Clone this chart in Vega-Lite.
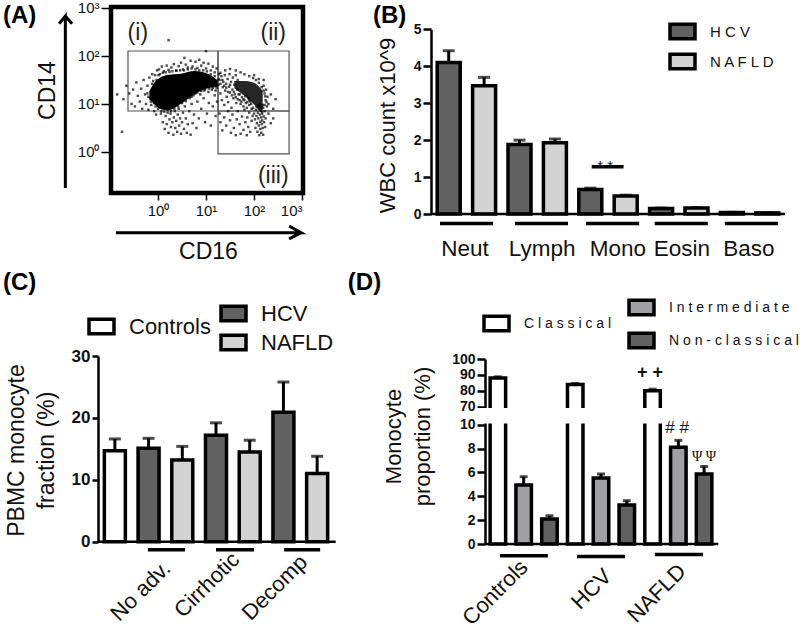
{"$schema":"https://vega.github.io/schema/vega-lite/v6.json","background":"white","padding":{"left":2,"top":0,"right":0,"bottom":0},"config":{"view":{"stroke":null},"font":"Liberation Sans","axis":{"grid":false,"labelFont":"Liberation Sans","titleFont":"Liberation Sans","titleFontWeight":"normal","labelColor":"#111","titleColor":"#111","tickColor":"black","domainColor":"black"},"legend":{"labelFont":"Liberation Sans","labelColor":"#111","symbolStrokeColor":"black","symbolStrokeWidth":3.5,"symbolOpacity":1,"padding":0,"labelLimit":300,"title":null,"symbolType":"M-1,-0.58H1V0.58H-1Z","symbolSize":625,"orient":"none"}},"spacing":{"row":142,"column":97},"bounds":"flush","columns":2,"concat":[
{"width":236,"height":186,"resolve":{"axis":{"x":"independent","y":"independent"}},"layer":[
{"data":{"values":[{"cd16":-0.979,"to":3.02,"cd14":-0.854,"top":3.02}]},"mark":{"type":"rect","fill":null,"stroke":"black","strokeWidth":4.5},"encoding":{"x":{"field":"cd16","type":"quantitative","scale":{"domain":[-0.979,3.02],"range":[13,205],"nice":false,"zero":false},"axis":{"values":[0,1,2,3],"labelExpr":"'10'+['⁰','¹','²','³'][datum.value]","labelFontSize":15,"tickSize":7,"tickWidth":1.5,"domain":false,"title":"CD16","titleFontSize":23,"titleX":110,"titleY":47,"labelPadding":3}},"x2":{"field":"to"},"y":{"field":"cd14","type":"quantitative","scale":{"domain":[-0.854,3.02],"range":[186,0],"nice":false,"zero":false},"axis":{"values":[0,1,2,3],"labelExpr":"'10'+['⁰','¹','²','³'][datum.value]","labelFontSize":15,"tickSize":10,"tickWidth":1.5,"domain":false,"offset":-13,"title":"CD14","titleFontSize":23,"titleX":-52,"titleY":83,"labelPadding":2}},"y2":{"field":"top"}}},
{"data":{"values":[{"gate":"i","cd16":-0.625,"to":1.25,"cd14":0.854,"top":2.104},{"gate":"ii","cd16":1.25,"to":2.73,"cd14":0.854,"top":2.104},{"gate":"iii","cd16":1.25,"to":2.73,"cd14":-0.04,"top":0.854}]},"mark":{"type":"rect","fill":null,"stroke":"#555","strokeWidth":1.2},"encoding":{"x":{"field":"cd16","type":"quantitative","axis":null},"x2":{"field":"to"},"y":{"field":"cd14","type":"quantitative","axis":null},"y2":{"field":"top"}}},
{"data":{"values":[{"cd16":-0.18,"lo":1.097,"hi":1.27},{"cd16":-0.076,"lo":0.993,"hi":1.444},{"cd16":0.0625,"lo":0.889,"hi":1.5625},{"cd16":0.2,"lo":0.868,"hi":1.604},{"cd16":0.48,"lo":1.007,"hi":1.632},{"cd16":0.757,"lo":1.2,"hi":1.6875},{"cd16":1.035,"lo":1.326,"hi":1.632},{"cd16":1.243,"lo":1.354,"hi":1.493}]},"mark":{"type":"area","color":"black","interpolate":"monotone"},"encoding":{"x":{"field":"cd16","type":"quantitative","axis":null},"y":{"field":"lo","type":"quantitative","axis":null},"y2":{"field":"hi"}}},
{"data":{"values":[{"cd16":1.59,"lo":1.33,"hi":1.48},{"cd16":1.8,"lo":1.17,"hi":1.48},{"cd16":2.0,"lo":0.99,"hi":1.44},{"cd16":2.18,"lo":0.78,"hi":1.27}]},"mark":{"type":"area","color":"black","opacity":0.85,"interpolate":"monotone"},"encoding":{"x":{"field":"cd16","type":"quantitative","axis":null},"y":{"field":"lo","type":"quantitative","axis":null},"y2":{"field":"hi"}}},
{"data":{"values":[{"cd16":-0.72,"cd14":1.1},{"cd16":-0.66,"cd14":1.38},{"cd16":-0.6,"cd14":1.22},{"cd16":-0.55,"cd14":1.0},{"cd16":-0.52,"cd14":1.3},{"cd16":-0.48,"cd14":0.95},{"cd16":-0.45,"cd14":1.45},{"cd16":-0.42,"cd14":1.17},{"cd16":-0.38,"cd14":1.05},{"cd16":-0.35,"cd14":1.32},{"cd16":-0.33,"cd14":0.9},{"cd16":-0.3,"cd14":1.5},{"cd16":-0.27,"cd14":1.2},{"cd16":-0.25,"cd14":1.0},{"cd16":-0.22,"cd14":1.38},{"cd16":-0.2,"cd14":0.88},{"cd16":-0.18,"cd14":1.55},{"cd16":-0.16,"cd14":1.12},{"cd16":-0.14,"cd14":0.98},{"cd16":-0.12,"cd14":1.62},{"cd16":-0.1,"cd14":1.3},{"cd16":-0.08,"cd14":0.85},{"cd16":-0.06,"cd14":1.6},{"cd16":-0.04,"cd14":0.78},{"cd16":-0.02,"cd14":1.7},{"cd16":-0.75,"cd14":0.42},{"cd16":-0.85,"cd14":1.2},{"cd16":0.02,"cd14":1.72},{"cd16":0.08,"cd14":1.78},{"cd16":0.12,"cd14":1.68},{"cd16":0.18,"cd14":1.8},{"cd16":0.22,"cd14":1.71},{"cd16":0.28,"cd14":1.76},{"cd16":0.33,"cd14":1.83},{"cd16":0.38,"cd14":1.7},{"cd16":0.43,"cd14":1.79},{"cd16":0.48,"cd14":1.86},{"cd16":0.52,"cd14":1.72},{"cd16":0.58,"cd14":1.82},{"cd16":0.62,"cd14":1.76},{"cd16":0.68,"cd14":1.9},{"cd16":0.72,"cd14":1.78},{"cd16":0.78,"cd14":1.88},{"cd16":0.82,"cd14":1.75},{"cd16":0.86,"cd14":1.92},{"cd16":0.9,"cd14":1.8},{"cd16":0.95,"cd14":1.86},{"cd16":1.0,"cd14":1.74},{"cd16":1.05,"cd14":1.84},{"cd16":1.1,"cd14":1.7},{"cd16":1.14,"cd14":1.78},{"cd16":1.18,"cd14":1.66},{"cd16":1.22,"cd14":1.74},{"cd16":1.27,"cd14":1.62},{"cd16":0.55,"cd14":1.96},{"cd16":1.0,"cd14":2.1},{"cd16":0.22,"cd14":2.33},{"cd16":0.02,"cd14":0.95},{"cd16":0.06,"cd14":0.8},{"cd16":0.1,"cd14":0.62},{"cd16":0.12,"cd14":0.9},{"cd16":0.14,"cd14":0.48},{"cd16":0.16,"cd14":0.75},{"cd16":0.18,"cd14":0.58},{"cd16":0.2,"cd14":0.88},{"cd16":0.22,"cd14":0.4},{"cd16":0.24,"cd14":0.68},{"cd16":0.26,"cd14":0.8},{"cd16":0.27,"cd14":0.52},{"cd16":0.29,"cd14":0.93},{"cd16":0.3,"cd14":0.62},{"cd16":0.32,"cd14":0.36},{"cd16":0.33,"cd14":0.72},{"cd16":0.35,"cd14":0.85},{"cd16":0.36,"cd14":0.5},{"cd16":0.38,"cd14":0.65},{"cd16":0.4,"cd14":0.42},{"cd16":0.41,"cd14":0.78},{"cd16":0.43,"cd14":0.9},{"cd16":0.44,"cd14":0.55},{"cd16":0.46,"cd14":0.7},{"cd16":0.48,"cd14":0.38},{"cd16":0.5,"cd14":0.62},{"cd16":0.52,"cd14":0.82},{"cd16":0.54,"cd14":0.48},{"cd16":0.56,"cd14":0.95},{"cd16":0.58,"cd14":0.7},{"cd16":0.6,"cd14":0.4},{"cd16":0.62,"cd14":0.58},{"cd16":0.65,"cd14":0.85},{"cd16":0.68,"cd14":0.36},{"cd16":0.7,"cd14":1.0},{"cd16":0.72,"cd14":0.6},{"cd16":0.75,"cd14":0.78},{"cd16":0.8,"cd14":0.5},{"cd16":0.82,"cd14":1.05},{"cd16":0.85,"cd14":0.7},{"cd16":0.9,"cd14":0.9},{"cd16":0.95,"cd14":1.12},{"cd16":0.98,"cd14":0.62},{"cd16":1.02,"cd14":0.8},{"cd16":1.06,"cd14":1.02},{"cd16":1.1,"cd14":0.55},{"cd16":1.14,"cd14":0.95},{"cd16":1.18,"cd14":1.18},{"cd16":1.2,"cd14":0.75},{"cd16":1.23,"cd14":1.05},{"cd16":0.7,"cd14":1.15},{"cd16":0.78,"cd14":1.22},{"cd16":0.88,"cd14":1.2},{"cd16":0.96,"cd14":1.28},{"cd16":1.05,"cd14":1.25},{"cd16":1.12,"cd14":1.3},{"cd16":1.2,"cd14":1.28},{"cd16":1.26,"cd14":1.4},{"cd16":1.28,"cd14":1.5},{"cd16":1.3,"cd14":1.22},{"cd16":1.32,"cd14":1.58},{"cd16":1.33,"cd14":1.08},{"cd16":1.35,"cd14":1.35},{"cd16":1.36,"cd14":1.46},{"cd16":1.38,"cd14":0.98},{"cd16":1.39,"cd14":1.6},{"cd16":1.4,"cd14":1.28},{"cd16":1.42,"cd14":1.42},{"cd16":1.43,"cd14":1.15},{"cd16":1.45,"cd14":1.52},{"cd16":1.46,"cd14":1.04},{"cd16":1.48,"cd14":1.36},{"cd16":1.49,"cd14":1.62},{"cd16":1.5,"cd14":1.24},{"cd16":1.52,"cd14":1.46},{"cd16":1.53,"cd14":0.92},{"cd16":1.55,"cd14":1.3},{"cd16":1.56,"cd14":1.55},{"cd16":1.57,"cd14":1.12},{"cd16":1.59,"cd14":1.4},{"cd16":1.6,"cd14":1.2},{"cd16":1.62,"cd14":1.6},{"cd16":1.63,"cd14":1.02},{"cd16":1.65,"cd14":1.3},{"cd16":1.66,"cd14":1.5},{"cd16":1.3,"cd14":1.65},{"cd16":1.4,"cd14":1.7},{"cd16":1.5,"cd14":1.73},{"cd16":1.62,"cd14":1.7},{"cd16":1.72,"cd14":1.66},{"cd16":1.8,"cd14":1.62},{"cd16":1.9,"cd14":1.58},{"cd16":2.0,"cd14":1.6},{"cd16":2.1,"cd14":1.52},{"cd16":2.2,"cd14":1.5},{"cd16":2.2,"cd14":1.38},{"cd16":2.25,"cd14":1.3},{"cd16":2.28,"cd14":1.15},{"cd16":2.3,"cd14":1.0},{"cd16":2.24,"cd14":1.08},{"cd16":2.35,"cd14":1.2},{"cd16":2.4,"cd14":0.9},{"cd16":2.45,"cd14":1.1},{"cd16":2.27,"cd14":0.95},{"cd16":2.22,"cd14":1.22},{"cd16":1.68,"cd14":1.2},{"cd16":1.7,"cd14":1.08},{"cd16":1.72,"cd14":1.0},{"cd16":1.75,"cd14":1.14},{"cd16":1.78,"cd14":0.95},{"cd16":1.8,"cd14":1.08},{"cd16":1.83,"cd14":1.02},{"cd16":1.85,"cd14":0.92},{"cd16":1.88,"cd14":1.12},{"cd16":1.9,"cd14":0.98},{"cd16":1.92,"cd14":1.05},{"cd16":1.95,"cd14":0.9},{"cd16":1.28,"cd14":0.8},{"cd16":1.3,"cd14":0.62},{"cd16":1.34,"cd14":0.45},{"cd16":1.38,"cd14":0.72},{"cd16":1.42,"cd14":0.55},{"cd16":1.46,"cd14":0.85},{"cd16":1.5,"cd14":0.66},{"cd16":1.52,"cd14":0.4},{"cd16":1.55,"cd14":0.78},{"cd16":1.58,"cd14":0.5},{"cd16":1.62,"cd14":0.35},{"cd16":1.64,"cd14":0.68},{"cd16":1.66,"cd14":0.85},{"cd16":1.7,"cd14":0.58},{"cd16":1.72,"cd14":0.38},{"cd16":1.75,"cd14":0.74},{"cd16":1.78,"cd14":0.46},{"cd16":1.8,"cd14":0.88},{"cd16":1.82,"cd14":0.62},{"cd16":1.85,"cd14":0.35},{"cd16":1.86,"cd14":0.72},{"cd16":1.88,"cd14":0.52},{"cd16":1.9,"cd14":0.82},{"cd16":1.92,"cd14":0.42},{"cd16":1.95,"cd14":0.65},{"cd16":1.97,"cd14":0.75},{"cd16":1.98,"cd14":0.92},{"cd16":2.0,"cd14":0.8},{"cd16":2.02,"cd14":0.68},{"cd16":2.03,"cd14":0.5},{"cd16":2.04,"cd14":0.88},{"cd16":2.05,"cd14":0.75},{"cd16":2.06,"cd14":0.6},{"cd16":2.07,"cd14":0.42},{"cd16":2.08,"cd14":0.95},{"cd16":2.08,"cd14":0.82},{"cd16":2.09,"cd14":0.7},{"cd16":2.1,"cd14":0.55},{"cd16":2.1,"cd14":0.9},{"cd16":2.11,"cd14":0.35},{"cd16":2.12,"cd14":0.78},{"cd16":2.13,"cd14":0.63},{"cd16":2.13,"cd14":0.48},{"cd16":2.14,"cd14":0.86},{"cd16":2.15,"cd14":0.72},{"cd16":2.15,"cd14":0.4},{"cd16":2.16,"cd14":0.58},{"cd16":2.17,"cd14":0.8},{"cd16":2.17,"cd14":0.66},{"cd16":2.18,"cd14":0.5},{"cd16":2.19,"cd14":0.92},{"cd16":2.19,"cd14":0.36},{"cd16":2.2,"cd14":0.74},{"cd16":2.21,"cd14":0.62},{"cd16":2.22,"cd14":0.85},{"cd16":2.23,"cd14":0.52},{"cd16":2.24,"cd14":0.7},{"cd16":2.05,"cd14":0.95},{"cd16":2.12,"cd14":1.0},{"cd16":2.18,"cd14":0.98},{"cd16":2.3,"cd14":0.8},{"cd16":2.35,"cd14":0.6},{"cd16":2.4,"cd14":0.7},{"cd16":-0.2,"cd14":1.15},{"cd16":-0.22,"cd14":1.22},{"cd16":-0.15,"cd14":1.05},{"cd16":-0.12,"cd14":1.42},{"cd16":-0.1,"cd14":1.48},{"cd16":-0.08,"cd14":1.02},{"cd16":-0.05,"cd14":0.95},{"cd16":-0.03,"cd14":1.5},{"cd16":0,"cd14":0.9},{"cd16":0.01,"cd14":1.6},{"cd16":0.04,"cd14":1.62},{"cd16":0.07,"cd14":0.85},{"cd16":0.1,"cd14":1.65},{"cd16":0.13,"cd14":0.84},{"cd16":0.16,"cd14":1.66},{"cd16":0.2,"cd14":0.82},{"cd16":0.24,"cd14":1.67},{"cd16":0.27,"cd14":0.85},{"cd16":0.3,"cd14":1.68},{"cd16":0.34,"cd14":0.9},{"cd16":0.38,"cd14":1.69},{"cd16":0.42,"cd14":0.95},{"cd16":0.46,"cd14":1.7},{"cd16":0.5,"cd14":1.02},{"cd16":0.54,"cd14":1.7},{"cd16":0.58,"cd14":1.06},{"cd16":0.62,"cd14":1.72},{"cd16":0.66,"cd14":1.12},{"cd16":0.7,"cd14":1.74},{"cd16":0.74,"cd14":1.18},{"cd16":0.78,"cd14":1.72},{"cd16":0.82,"cd14":1.24},{"cd16":0.86,"cd14":1.7},{"cd16":0.9,"cd14":1.27},{"cd16":0.94,"cd14":1.7},{"cd16":0.98,"cd14":1.3},{"cd16":1.02,"cd14":1.68},{"cd16":1.06,"cd14":1.32},{"cd16":1.1,"cd14":1.62},{"cd16":1.14,"cd14":1.34},{"cd16":1.18,"cd14":1.58},{"cd16":1.22,"cd14":1.34},{"cd16":1.26,"cd14":1.52},{"cd16":1.3,"cd14":1.42},{"cd16":1.34,"cd14":1.5},{"cd16":1.38,"cd14":1.38},{"cd16":1.42,"cd14":1.34},{"cd16":1.46,"cd14":1.25},{"cd16":1.5,"cd14":1.4},{"cd16":1.54,"cd14":1.18},{"cd16":1.58,"cd14":1.25},{"cd16":1.62,"cd14":1.14},{"cd16":1.66,"cd14":1.1},{"cd16":1.7,"cd14":1.2},{"cd16":1.74,"cd14":1.05},{"cd16":1.78,"cd14":1.1},{"cd16":1.82,"cd14":1.16},{"cd16":1.86,"cd14":1.04},{"cd16":1.9,"cd14":1.08},{"cd16":1.94,"cd14":1.0},{"cd16":1.98,"cd14":1.54},{"cd16":2.04,"cd14":1.5},{"cd16":2.1,"cd14":1.44},{"cd16":2.16,"cd14":1.35},{"cd16":2.2,"cd14":1.28},{"cd16":2.23,"cd14":1.16},{"cd16":2.26,"cd14":1.04},{"cd16":2.22,"cd14":0.98},{"cd16":2.16,"cd14":0.94},{"cd16":2.1,"cd14":0.97}]},"mark":{"type":"square","size":6,"color":"black"},"encoding":{"x":{"field":"cd16","type":"quantitative","axis":null},"y":{"field":"cd14","type":"quantitative","axis":null}}},
{"data":{"values":[{"i":1,"cd16":-1.93,"cd14":-0.75},{"i":2,"cd16":-1.93,"cd14":2.83},{"i":3,"cd16":-2.06,"cd14":2.67},{"i":4,"cd16":-1.93,"cd14":2.83},{"i":5,"cd16":-1.79,"cd14":2.67}]},"mark":{"type":"line","color":"black","strokeWidth":3},"encoding":{"x":{"field":"cd16","type":"quantitative","axis":null},"y":{"field":"cd14","type":"quantitative","axis":null},"order":{"field":"i"}}},
{"data":{"values":[{"i":1,"cd16":-0.875,"cd14":-1.68},{"i":2,"cd16":2.98,"cd14":-1.68},{"i":3,"cd16":2.73,"cd14":-1.54},{"i":4,"cd16":2.98,"cd14":-1.68},{"i":5,"cd16":2.73,"cd14":-1.81}]},"mark":{"type":"line","color":"black","strokeWidth":3},"encoding":{"x":{"field":"cd16","type":"quantitative","axis":null},"y":{"field":"cd14","type":"quantitative","axis":null},"order":{"field":"i"}}},
{"data":{"values":[{"t":"(i)","cd16":-0.42,"cd14":2.48},{"t":"(ii)","cd16":2.4,"cd14":2.48},{"t":"(iii)","cd16":2.4,"cd14":-0.5}]},"mark":{"type":"text","fontSize":23,"color":"#222"},"encoding":{"x":{"field":"cd16","type":"quantitative","axis":null},"y":{"field":"cd14","type":"quantitative","axis":null},"text":{"field":"t"}}},
{"data":{"values":[{"t":"(A)","cd16":-3.23,"cd14":2.83}]},"mark":{"type":"text","fontSize":24,"fontWeight":"bold","align":"left","color":"black"},"encoding":{"x":{"field":"cd16","type":"quantitative","axis":null},"y":{"field":"cd14","type":"quantitative","axis":null},"text":{"field":"t"}}}
]},
{"width":354,"height":207,"resolve":{"scale":{"x":"independent"},"axis":{"y":"independent"}},"layer":[
{"data":{"values":[{"bar":"Neut HCV","series":"HCV","mean":4.1,"top":4.42},{"bar":"Neut NAFLD","series":"NAFLD","mean":3.47,"top":3.7},{"bar":"Lymph HCV","series":"HCV","mean":1.88,"top":2.0},{"bar":"Lymph NAFLD","series":"NAFLD","mean":1.93,"top":2.03},{"bar":"Mono HCV","series":"HCV","mean":0.66,"top":0.7},{"bar":"Mono NAFLD","series":"NAFLD","mean":0.49,"top":0.51},{"bar":"Eosin HCV","series":"HCV","mean":0.15,"top":0.16},{"bar":"Eosin NAFLD","series":"NAFLD","mean":0.16,"top":0.17},{"bar":"Baso HCV","series":"HCV","mean":0.04,"top":0.045},{"bar":"Baso NAFLD","series":"NAFLD","mean":0.03,"top":0.035}]},
"encoding":{"x":{"field":"bar","type":"nominal","scale":{"domain":["Neut HCV","Neut NAFLD","Lymph HCV","Lymph NAFLD","Mono HCV","Mono NAFLD","Eosin HCV","Eosin NAFLD","Baso HCV","Baso NAFLD"],"padding":0},"axis":null}},
"resolve":{"axis":{"y":"independent"}},
"layer":[{"mark":{"type":"rule","color":"black","strokeWidth":3},"encoding":{"y":{"field":"mean","type":"quantitative","scale":{"domain":[0,5],"range":[207,22.3],"nice":false,"zero":false},"axis":{"values":[0,1,2,3,4,5],"labelFontWeight":"bold","labelFontSize":14,"tickSize":8,"tickWidth":2.5,"domainWidth":2.5,"title":"WBC count x10^9","titleFontSize":22,"titleX":-32,"titleY":118}},"y2":{"field":"top"}}},
{"mark":{"type":"tick","color":"black","size":12,"thickness":3},"encoding":{"y":{"field":"top","type":"quantitative","axis":null,"scale":{"domain":[0,5],"range":[207,22.3],"nice":false,"zero":false}}}},
{"mark":{"type":"bar","width":23,"stroke":"black","strokeWidth":3.5},"encoding":{"y":{"field":"mean","type":"quantitative","axis":null,"scale":{"domain":[0,5],"range":[207,22.3],"nice":false,"zero":false}},"fill":{"field":"series","type":"nominal","scale":{"domain":["HCV","NAFLD"],"range":["#616161","#d3d3d3"]},"legend":{"legendX":570,"legendY":10,"labelFontSize":15,"labelOffset":13,"rowPadding":1,"labelExpr":"join(split(datum.label,''),' ')"}}}}]},
{"data":{"values":[{"x0":0,"x1":5}]},"mark":{"type":"rule","color":"black","strokeWidth":2.5},"encoding":{"x":{"field":"x0","type":"quantitative","scale":{"domain":[0,5],"nice":false,"zero":false},"axis":null},"x2":{"field":"x1"},"y":{"datum":0,"type":"quantitative","axis":null,"scale":{"domain":[0,5],"range":[207,22.3],"nice":false,"zero":false}}}},
{"data":{"values":[{"x0":0.127,"x1":0.876,"v":-0.26},{"x0":1.186,"x1":1.935,"v":-0.26},{"x0":2.19,"x1":2.94,"v":-0.26},{"x0":3.16,"x1":3.91,"v":-0.26},{"x0":4.15,"x1":4.9,"v":-0.26},{"x0":2.27,"x1":2.72,"v":1.28}]},"mark":{"type":"rule","color":"black","strokeWidth":3.5},"encoding":{"x":{"field":"x0","type":"quantitative","scale":{"domain":[0,5],"nice":false,"zero":false},"axis":null},"x2":{"field":"x1"},"y":{"field":"v","type":"quantitative","axis":null,"scale":{"domain":[0,5],"range":[207,22.3],"nice":false,"zero":false}}}},
{"data":{"values":[{"t":"Neut","p":0.48},{"t":"Lymph","p":1.57},{"t":"Mono","p":2.64},{"t":"Eosin","p":3.545},{"t":"Baso","p":4.49}]},"mark":{"type":"text","fontSize":22.5,"color":"#111"},"encoding":{"x":{"field":"p","type":"quantitative","scale":{"domain":[0,5],"nice":false,"zero":false},"axis":null},"y":{"datum":-0.95,"type":"quantitative","axis":null,"scale":{"domain":[0,5],"range":[207,22.3],"nice":false,"zero":false}},"text":{"field":"t"}}},
{"data":{"values":[{"t":"* *","p":2.46,"v":1.3}]},"mark":{"type":"text","fontSize":15,"color":"#222"},"encoding":{"x":{"field":"p","type":"quantitative","scale":{"domain":[0,5],"nice":false,"zero":false},"axis":null},"y":{"field":"v","type":"quantitative","axis":null,"scale":{"domain":[0,5],"range":[207,22.3],"nice":false,"zero":false}},"text":{"field":"t"}}},
{"data":{"values":[{"t":"(B)","p":-0.82,"v":5.36}]},"mark":{"type":"text","fontSize":24,"fontWeight":"bold","align":"left","color":"black"},"encoding":{"x":{"field":"p","type":"quantitative","scale":{"domain":[0,5],"nice":false,"zero":false},"axis":null},"y":{"field":"v","type":"quantitative","axis":null,"scale":{"domain":[0,5],"range":[207,22.3],"nice":false,"zero":false}},"text":{"field":"t"}}}
]},
{"width":236,"height":185.7,"resolve":{"scale":{"x":"independent"},"axis":{"y":"independent"}},"layer":[
{"data":{"values":[{"bar":"Controls","series":"Controls","mean":14.7,"top":16.6},{"bar":"No adv. HCV","series":"HCV","mean":15.1,"top":16.7},{"bar":"No adv. NAFLD","series":"NAFLD","mean":13.2,"top":15.4},{"bar":"Cirrhotic HCV","series":"HCV","mean":17.2,"top":19.2},{"bar":"Cirrhotic NAFLD","series":"NAFLD","mean":14.5,"top":16.4},{"bar":"Decomp HCV","series":"HCV","mean":20.9,"top":25.8},{"bar":"Decomp NAFLD","series":"NAFLD","mean":11.0,"top":13.8}]},
"encoding":{"x":{"field":"bar","type":"nominal","scale":{"domain":["Controls","No adv. HCV","No adv. NAFLD","Cirrhotic HCV","Cirrhotic NAFLD","Decomp HCV","Decomp NAFLD"],"padding":0},"axis":null}},
"resolve":{"scale":{"fill":"independent"},"legend":{"fill":"independent"},"axis":{"y":"independent"}},
"layer":[{"mark":{"type":"rule","color":"black","strokeWidth":3},"encoding":{"y":{"field":"mean","type":"quantitative","scale":{"domain":[0,30],"nice":false},"axis":{"values":[0,10,20,30],"labelFontWeight":"bold","labelFontSize":17,"tickSize":6,"tickWidth":2.5,"domainWidth":2.5,"title":["PBMC monocyte","fraction (%)"],"titleFontSize":23,"titleLineHeight":30,"titleX":-70,"titleY":94}},"y2":{"field":"top"}}},
{"mark":{"type":"tick","color":"black","size":12,"thickness":3},"encoding":{"y":{"field":"top","type":"quantitative","axis":null,"scale":{"domain":[0,30],"nice":false}}}},
{"transform":[{"filter":"datum.series=='Controls'"}],"mark":{"type":"bar","width":21,"stroke":"black","strokeWidth":3.5},"encoding":{"y":{"field":"mean","type":"quantitative","axis":null,"scale":{"domain":[0,30],"nice":false}},"fill":{"field":"series","type":"nominal","scale":{"domain":["Controls"],"range":["white"]},"legend":{"legendX":-11,"legendY":-44,"labelFontSize":22,"labelOffset":13}}}},
{"transform":[{"filter":"datum.series!='Controls'"}],"mark":{"type":"bar","width":21,"stroke":"black","strokeWidth":3.5},"encoding":{"y":{"field":"mean","type":"quantitative","axis":null,"scale":{"domain":[0,30],"nice":false}},"fill":{"field":"series","type":"nominal","scale":{"domain":["HCV","NAFLD"],"range":["#616161","#d3d3d3"]},"legend":{"legendX":121,"legendY":-57,"labelFontSize":22,"labelOffset":13,"rowPadding":0}}}}]},
{"data":{"values":[{"x0":0,"x1":7.05}]},"mark":{"type":"rule","color":"black","strokeWidth":2.5},"encoding":{"x":{"field":"x0","type":"quantitative","scale":{"domain":[0,7],"nice":false,"zero":false},"axis":null},"x2":{"field":"x1"},"y":{"datum":0,"type":"quantitative","axis":null,"scale":{"domain":[0,30],"nice":false}}}},
{"data":{"values":[{"x0":1.48,"x1":2.58},{"x0":3.5,"x1":4.63},{"x0":5.52,"x1":6.59}]},"mark":{"type":"rule","color":"black","strokeWidth":3.5},"encoding":{"x":{"field":"x0","type":"quantitative","scale":{"domain":[0,7],"nice":false,"zero":false},"axis":null},"x2":{"field":"x1"},"y":{"datum":-1.29,"type":"quantitative","axis":null,"scale":{"domain":[0,30],"nice":false}}}},
{"data":{"values":[{"t":"No adv.","p":2.04,"v":-3.75},{"t":"Cirrhotic","p":4.09,"v":-2.3},{"t":"Decomp","p":6.1,"v":-2.75}]},"mark":{"type":"text","fontSize":22,"angle":-45,"align":"right","color":"#111"},"encoding":{"x":{"field":"p","type":"quantitative","scale":{"domain":[0,7],"nice":false,"zero":false},"axis":null},"y":{"field":"v","type":"quantitative","axis":null,"scale":{"domain":[0,30],"nice":false}},"text":{"field":"t"}}},
{"data":{"values":[{"t":"(C)","p":-2.82,"v":41.8}]},"mark":{"type":"text","fontSize":24,"fontWeight":"bold","align":"left","color":"black"},"encoding":{"x":{"field":"p","type":"quantitative","scale":{"domain":[0,7],"nice":false,"zero":false},"axis":null},"y":{"field":"v","type":"quantitative","axis":null,"scale":{"domain":[0,30],"nice":false}},"text":{"field":"t"}}}
]},
{"width":286,"height":188,"resolve":{"scale":{"x":"independent"},"axis":{"y":"independent"}},"layer":[
{"data":{"values":[{"bar":"Controls Classical","series":"Classical","mean":88,"top":88.8},{"bar":"Controls Intermediate","series":"Intermediate","mean":4.94,"top":5.64},{"bar":"Controls Non-classical","series":"Non-classical","mean":2.1,"top":2.37},{"bar":"HCV Classical","series":"Classical","mean":84,"top":84.6},{"bar":"HCV Intermediate","series":"Intermediate","mean":5.53,"top":5.87},{"bar":"HCV Non-classical","series":"Non-classical","mean":3.27,"top":3.63},{"bar":"NAFLD Classical","series":"Classical","mean":80,"top":81},{"bar":"NAFLD Intermediate","series":"Intermediate","mean":8.1,"top":8.69},{"bar":"NAFLD Non-classical","series":"Non-classical","mean":5.87,"top":6.5}]},
"encoding":{"x":{"field":"bar","type":"nominal","scale":{"domain":["Controls Classical","Controls Intermediate","Controls Non-classical","HCV Classical","HCV Intermediate","HCV Non-classical","NAFLD Classical","NAFLD Intermediate","NAFLD Non-classical"],"range":[54,286],"padding":0},"axis":null}},
"resolve":{"scale":{"fill":"independent"},"legend":{"fill":"independent"},"axis":{"y":"independent"}},
"layer":[{"mark":{"type":"rule","color":"black","strokeWidth":3},"encoding":{"y":{"field":"mean","type":"quantitative","scale":{"domain":[0,10,70,100],"range":[188,68.7,50.7,3],"nice":false,"zero":false},"axis":{"values":[0,2,4,6,8,10,70,80,90,100],"offset":-54,"labelFontWeight":"bold","labelFontSize":14,"tickSize":8,"tickWidth":2.5,"domainWidth":2.5,"title":["Monocyte","proportion (%)"],"titleFontSize":22,"titleLineHeight":29,"titleX":-80,"titleY":80}},"y2":{"field":"top"}}},
{"mark":{"type":"tick","color":"black","size":8,"thickness":3},"encoding":{"y":{"field":"top","type":"quantitative","axis":null,"scale":{"domain":[0,10,70,100],"range":[188,68.7,50.7,3],"nice":false,"zero":false}}}},
{"transform":[{"filter":"datum.series=='Classical'"}],"mark":{"type":"bar","width":15.5,"stroke":"black","strokeWidth":3.5},"encoding":{"y":{"field":"mean","type":"quantitative","axis":null,"scale":{"domain":[0,10,70,100],"range":[188,68.7,50.7,3],"nice":false,"zero":false}},"fill":{"field":"series","type":"nominal","scale":{"domain":["Classical"],"range":["white"]},"legend":{"legendX":51,"legendY":-47,"labelFontSize":14,"labelOffset":13,"labelExpr":"join(split(datum.label,''),' ')"}}}},
{"transform":[{"filter":"datum.series!='Classical'"}],"mark":{"type":"bar","width":15.5,"stroke":"black","strokeWidth":3.5},"encoding":{"y":{"field":"mean","type":"quantitative","axis":null,"scale":{"domain":[0,10,70,100],"range":[188,68.7,50.7,3],"nice":false,"zero":false}},"fill":{"field":"series","type":"nominal","scale":{"domain":["Intermediate","Non-classical"],"range":["#a0a0a2","#616161"]},"legend":{"legendX":196,"legendY":-63,"labelFontSize":14,"labelOffset":13,"rowPadding":4,"labelExpr":"join(split(datum.label,''),' ')"}}}}]},
{"data":{"values":[{"x0":-0.3,"x1":9.3}]},"mark":{"type":"rect","color":"white"},"encoding":{"x":{"field":"x0","type":"quantitative","scale":{"domain":[0,9],"range":[54,286],"nice":false,"zero":false},"axis":null},"x2":{"field":"x1"},"y":{"datum":14,"type":"quantitative","axis":null,"scale":{"domain":[0,10,70,100],"range":[188,68.7,50.7,3],"nice":false,"zero":false}},"y2":{"datum":66}}},
{"data":{"values":[{"x0":0,"x1":9.05}]},"mark":{"type":"rule","color":"black","strokeWidth":2.5},"encoding":{"x":{"field":"x0","type":"quantitative","scale":{"domain":[0,9],"range":[54,286],"nice":false,"zero":false},"axis":null},"x2":{"field":"x1"},"y":{"datum":0,"type":"quantitative","axis":null,"scale":{"domain":[0,10,70,100],"range":[188,68.7,50.7,3],"nice":false,"zero":false}}}},
{"data":{"values":[{"x0":0.58,"x1":2.44,"v":-0.98},{"x0":3.57,"x1":5.43,"v":-1.04},{"x0":6.59,"x1":8.46,"v":-0.87}]},"mark":{"type":"rule","color":"black","strokeWidth":3.5},"encoding":{"x":{"field":"x0","type":"quantitative","scale":{"domain":[0,9],"range":[54,286],"nice":false,"zero":false},"axis":null},"x2":{"field":"x1"},"y":{"field":"v","type":"quantitative","axis":null,"scale":{"domain":[0,10,70,100],"range":[188,68.7,50.7,3],"nice":false,"zero":false}}}},
{"data":{"values":[{"t":"Controls","p":1.52,"v":-1.65},{"t":"HCV","p":4.77,"v":-2.4},{"t":"NAFLD","p":7.65,"v":-2.0}]},"mark":{"type":"text","fontSize":22,"angle":-45,"align":"right","color":"#111"},"encoding":{"x":{"field":"p","type":"quantitative","scale":{"domain":[0,9],"range":[54,286],"nice":false,"zero":false},"axis":null},"y":{"field":"v","type":"quantitative","axis":null,"scale":{"domain":[0,10,70,100],"range":[188,68.7,50.7,3],"nice":false,"zero":false}},"text":{"field":"t"}}},
{"data":{"values":[{"t":"+ +","p":6.4,"v":91.4}]},"mark":{"type":"text","fontSize":18,"fontWeight":"bold","color":"#111"},"encoding":{"x":{"field":"p","type":"quantitative","scale":{"domain":[0,9],"range":[54,286],"nice":false,"zero":false},"axis":null},"y":{"field":"v","type":"quantitative","axis":null,"scale":{"domain":[0,10,70,100],"range":[188,68.7,50.7,3],"nice":false,"zero":false}},"text":{"field":"t"}}},
{"data":{"values":[{"t":"# #","p":7.45,"v":9.75}]},"mark":{"type":"text","fontSize":17,"color":"#111"},"encoding":{"x":{"field":"p","type":"quantitative","scale":{"domain":[0,9],"range":[54,286],"nice":false,"zero":false},"axis":null},"y":{"field":"v","type":"quantitative","axis":null,"scale":{"domain":[0,10,70,100],"range":[188,68.7,50.7,3],"nice":false,"zero":false}},"text":{"field":"t"}}},
{"data":{"values":[{"t":"Ψ Ψ","p":8.5,"v":7.32}]},"mark":{"type":"text","fontSize":14,"font":"Liberation Serif","color":"#111"},"encoding":{"x":{"field":"p","type":"quantitative","scale":{"domain":[0,9],"range":[54,286],"nice":false,"zero":false},"axis":null},"y":{"field":"v","type":"quantitative","axis":null,"scale":{"domain":[0,10,70,100],"range":[188,68.7,50.7,3],"nice":false,"zero":false}},"text":{"field":"t"}}},
{"data":{"values":[{"t":"(D)","p":-5.32,"v":148}]},"mark":{"type":"text","fontSize":24,"fontWeight":"bold","align":"left","color":"black"},"encoding":{"x":{"field":"p","type":"quantitative","scale":{"domain":[0,9],"range":[54,286],"nice":false,"zero":false},"axis":null},"y":{"field":"v","type":"quantitative","axis":null,"scale":{"domain":[0,10,70,100],"range":[188,68.7,50.7,3],"nice":false,"zero":false}},"text":{"field":"t"}}}
]}
]}
